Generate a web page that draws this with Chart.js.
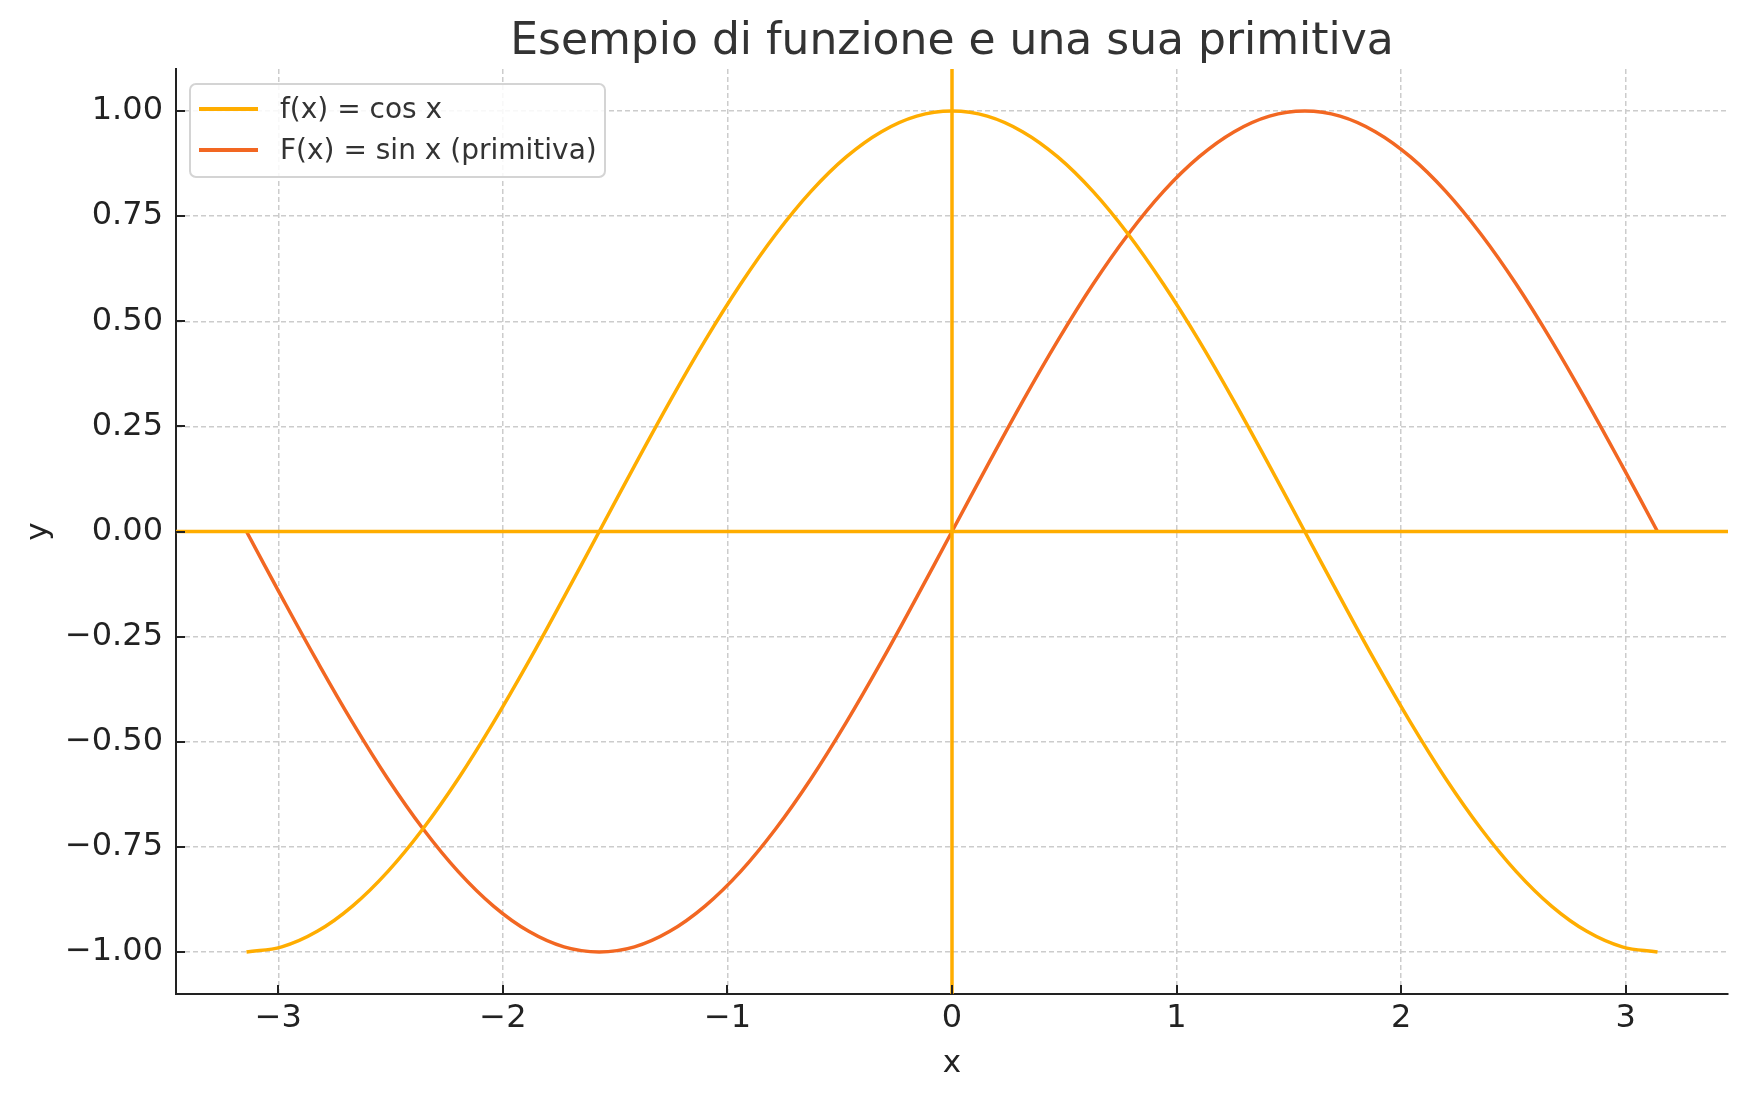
<!DOCTYPE html>
<html>
<head>
<meta charset="utf-8">
<script src="https://cdn.jsdelivr.net/npm/chart.js@4.4.1/dist/chart.umd.min.js"></script>
<style>
  body { margin: 0; background: #fff; }
</style>
</head>
<body>
<canvas id="primitiva" width="1746" height="1101"></canvas>
<script>
// valori (passo ~0.157)
const xValues = [-3.142, -2.985, -2.827, -2.670, -2.513, -2.356, -2.199, -2.042, -1.885, -1.728, -1.571,
                 -1.414, -1.257, -1.100, -0.942, -0.785, -0.628, -0.471, -0.314, -0.157, 0.000,
                 0.157, 0.314, 0.471, 0.628, 0.785, 0.942, 1.100, 1.257, 1.414, 1.571,
                 1.728, 1.885, 2.042, 2.199, 2.356, 2.513, 2.670, 2.827, 2.985, 3.142];
const cosValues = [-1.000, -0.988, -0.951, -0.891, -0.809, -0.707, -0.588, -0.454, -0.309, -0.156, 0.000,
                   0.156, 0.309, 0.454, 0.588, 0.707, 0.809, 0.891, 0.951, 0.988, 1.000,
                   0.988, 0.951, 0.891, 0.809, 0.707, 0.588, 0.454, 0.309, 0.156, 0.000,
                   -0.156, -0.309, -0.454, -0.588, -0.707, -0.809, -0.891, -0.951, -0.988, -1.000];
const sinValues = [0.000, -0.156, -0.309, -0.454, -0.588, -0.707, -0.809, -0.891, -0.951, -0.988, -1.000,
                   -0.988, -0.951, -0.891, -0.809, -0.707, -0.588, -0.454, -0.309, -0.156, 0.000,
                   0.156, 0.309, 0.454, 0.588, 0.707, 0.809, 0.891, 0.951, 0.988, 1.000,
                   0.988, 0.951, 0.891, 0.809, 0.707, 0.588, 0.454, 0.309, 0.156, 0.000];
const seriesLabels = ['f(x) = cos x', 'F(x) = sin x (primitiva)'];
const chartTitle = 'Esempio di funzione e una sua primitiva';
const xTicks = [-3, -2, -1, 0, 1, 2, 3];
const yTicks = [-1.00, -0.75, -0.50, -0.25, 0.00, 0.25, 0.50, 0.75, 1.00];
const xRange = [-3.456, 3.456];
const yRange = [-1.1, 1.1];

const cosColor = '#ffad00';
const sinColor = '#f26722';
const font = "'DejaVu Sans', sans-serif";

const toPoints = (ys) => xValues.map((x, i) => ({x: x, y: ys[i]}));
const minus = (s) => s.replace('-', '\u2212');

// titolo centrato sul grafico, tacche interne, legenda dentro il grafico
const extras = {
    id: 'extras',
    afterDraw(chart) {
        const ctx = chart.ctx;
        const area = chart.chartArea;
        const sx = chart.scales.x, sy = chart.scales.y;
        ctx.save();

        ctx.font = '44px ' + font;
        ctx.fillStyle = '#333';
        ctx.textAlign = 'center';
        ctx.textBaseline = 'alphabetic';
        ctx.fillText(chartTitle, (area.left + area.right) / 2, 54);

        ctx.strokeStyle = '#222';
        ctx.lineWidth = 2;
        xTicks.forEach(v => {
            const px = Math.round(sx.getPixelForValue(v));
            ctx.beginPath();
            ctx.moveTo(px, area.bottom);
            ctx.lineTo(px, area.bottom - 9);
            ctx.stroke();
        });
        yTicks.forEach(v => {
            const py = Math.round(sy.getPixelForValue(v));
            ctx.beginPath();
            ctx.moveTo(area.left, py);
            ctx.lineTo(area.left + 9, py);
            ctx.stroke();
        });

        // legenda
        const bx = 190, by = 84, bw = 415, bh = 93;
        ctx.beginPath();
        ctx.roundRect(bx, by, bw, bh, 6);
        ctx.fillStyle = 'rgba(255,255,255,0.85)';
        ctx.fill();
        ctx.strokeStyle = '#d4d4d4';
        ctx.lineWidth = 2;
        ctx.stroke();
        const colors = [cosColor, sinColor];
        ctx.font = '28px ' + font;
        ctx.textAlign = 'left';
        ctx.textBaseline = 'middle';
        ctx.fillStyle = '#333';
        seriesLabels.forEach((lab, i) => {
            const ly = 109 + i * 41;
            ctx.beginPath();
            ctx.strokeStyle = colors[i];
            ctx.lineWidth = 4;
            ctx.moveTo(199, ly);
            ctx.lineTo(258, ly);
            ctx.stroke();
            ctx.fillText(lab, 280, ly + 2);
        });
        ctx.restore();
    }
};

new Chart(document.getElementById('primitiva'), {
    type: 'line',
    data: {
        datasets: [
            {
                label: 'asse x',
                data: [{x: xRange[0], y: 0}, {x: xRange[1], y: 0}],
                borderColor: cosColor, borderWidth: 3.5, pointRadius: 0, order: 0
            },
            {
                label: 'asse y',
                data: [{x: 0, y: yRange[0]}, {x: 0, y: yRange[1]}],
                borderColor: cosColor, borderWidth: 3.5, pointRadius: 0, order: 0
            },
            {
                label: seriesLabels[0],
                data: toPoints(cosValues),
                borderColor: cosColor, borderWidth: 3.5, pointRadius: 0,
                tension: 0.4, order: 1
            },
            {
                label: seriesLabels[1],
                data: toPoints(sinValues),
                borderColor: sinColor, borderWidth: 3.5, pointRadius: 0,
                tension: 0.4, order: 2
            }
        ]
    },
    options: {
        responsive: false,
        animation: false,
        devicePixelRatio: 1,
        layout: { padding: { right: 18, left: 0, bottom: 0, top: 69 } },
        plugins: {
            legend: { display: false },
            tooltip: { enabled: false },
            title: { display: false }
        },
        scales: {
            x: {
                type: 'linear',
                min: xRange[0], max: xRange[1],
                afterBuildTicks: (axis) => { axis.ticks = xTicks.map(v => ({value: v})); },
                afterFit: (axis) => { axis.height = 107; },
                grid: { color: '#cccccc', lineWidth: 1.5, drawTicks: false },
                border: { display: true, color: '#222', width: 2, dash: [5, 3] },
                ticks: {
                    color: '#222', padding: 5,
                    font: { family: font, size: 32 },
                    maxRotation: 0,
                    callback: (v) => minus(String(v))
                },
                title: {
                    display: true, text: 'x', color: '#222',
                    font: { family: font, size: 31 },
                    padding: { top: 0, bottom: 18 }
                }
            },
            y: {
                type: 'linear',
                min: yRange[0], max: yRange[1],
                afterBuildTicks: (axis) => { axis.ticks = yTicks.map(v => ({value: v})); },
                afterFit: (axis) => { axis.width = 176; },
                grid: { color: '#cccccc', lineWidth: 1.5, drawTicks: false },
                border: { display: true, color: '#222', width: 2, dash: [5, 3] },
                ticks: {
                    color: '#222', padding: 13,
                    font: { family: font, size: 32 },
                    callback: (v) => minus(v.toFixed(2))
                },
                title: {
                    display: true, text: 'y', color: '#222',
                    font: { family: font, size: 31 },
                    padding: { top: 20, bottom: 0 }
                }
            }
        }
    },
    plugins: [extras]
});
</script>
</body>
</html>
